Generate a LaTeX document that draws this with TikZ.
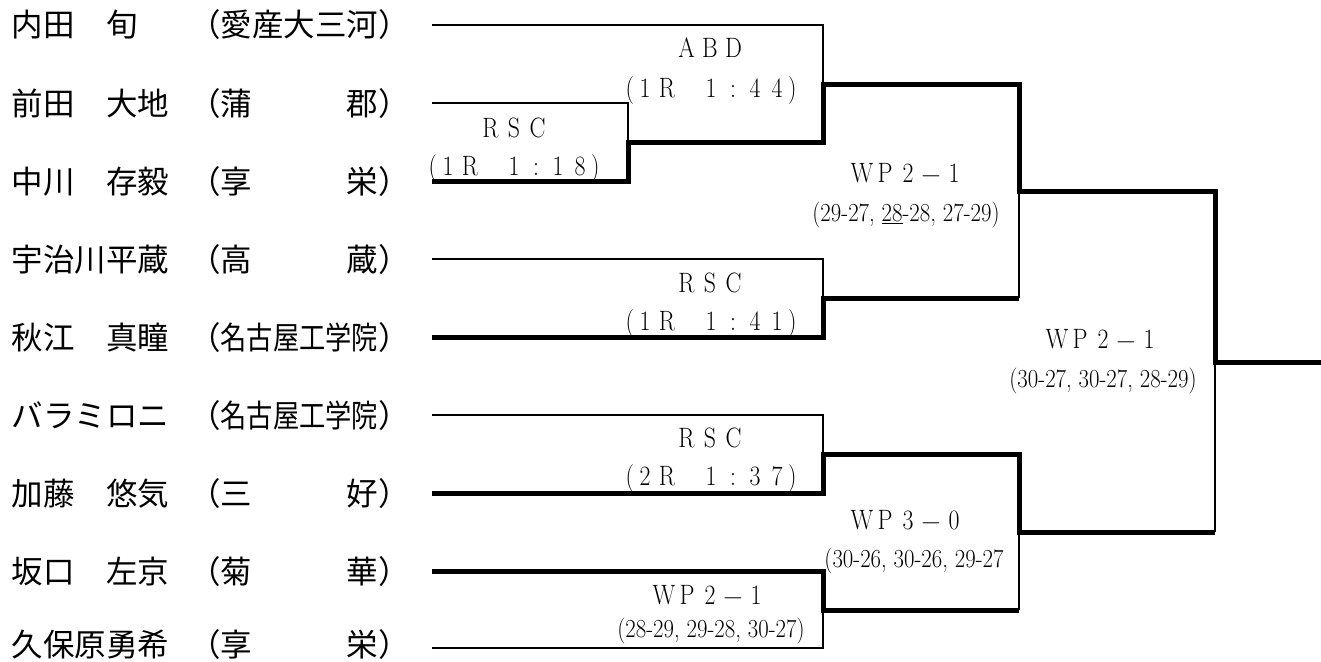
\documentclass[tikz,border=0pt]{standalone}
\usepackage{fontspec}
\usepackage{graphicx}
\newfontfamily\jpfont{Noto Sans CJK JP}
\newcommand\namefont{\jpfont\fontsize{31.5}{34}\selectfont}
\newcommand\lblfont{\fontsize{28}{30}\selectfont}
\newcommand\scorefont{\fontsize{26}{28}\selectfont}
\def\fwend{}
\newcommand\fwminus{\scalebox{1.3}[1]{$-$}}
\newcommand\fwglyph[1]{\scalebox{0.85}[1]{#1}}
\newcommand\fwstr[2]{\def\fwpitch{#1}\fwloop#2\fwend}
\def\fwloop#1{\ifx#1\fwend\else\makebox[\fwpitch]{\fwglyph{#1}}\expandafter\fwloop\fi}
\newcommand\fwpar[2]{\makebox[#1][r]{\fwglyph{(}}\fwstr{#1}{#2}\makebox[#1][l]{\fwglyph{)}}}
\newcommand\squeezed[1]{\scalebox{0.833}[1]{#1}}
\begin{document}
\begin{tikzpicture}[x=1pt,y=-1pt,
  thinln/.style={line width=1.4pt, line join=miter},
  thickln/.style={line width=5pt, line join=miter},
  pname/.style={anchor=base west, inner sep=0pt, font=\namefont},
  lbl/.style={anchor=base, inner sep=0pt, font=\lblfont},
  score/.style={anchor=base, inner sep=0pt, font=\scorefont}]
\fill[white] (0,0) rectangle (1321,661);
\useasboundingbox (0,0) rectangle (1321,661);

% players
\node[pname] (n1) at (11.5,37) {内田　旬};
\node[pname] (s1) at (189,37) {（愛産大三河）};
\node[pname] (n2) at (11.5,115) {前田　大地};
\node[pname] (s2) at (189,115) {（蒲　　　郡）};
\node[pname] (n3) at (11.5,193) {中川　存毅};
\node[pname] (s3) at (189,193) {（享　　　栄）};
\node[pname] (n4) at (11.5,271) {宇治川平蔵};
\node[pname] (s4) at (189,271) {（高　　　蔵）};
\node[pname] (n5) at (11.5,349) {秋江　真瞳};
\node[pname] (s5) at (189,349) {（\squeezed{名古屋工学院}）};
\node[pname] (n6) at (11.5,427) {バラミロニ};
\node[pname] (s6) at (189,427) {（\squeezed{名古屋工学院}）};
\node[pname] (n7) at (11.5,505) {加藤　悠気};
\node[pname] (s7) at (189,505) {（三　　　好）};
\node[pname] (n8) at (11.5,583) {坂口　左京};
\node[pname] (s8) at (189,583) {（菊　　　華）};
\node[pname] (n9) at (11.5,656.5) {久保原勇希};
\node[pname] (s9) at (189,656.5) {（享　　　栄）};

% line starts
\coordinate (l1) at (432,25);
\coordinate (l2) at (432,103);
\coordinate (l3) at (432,181);
\coordinate (l4) at (432,259);
\coordinate (l5) at (432,337);
\coordinate (l6) at (432,415);
\coordinate (l7) at (432,493);
\coordinate (l8) at (432,571);
\coordinate (l9) at (432,648);
% junctions
\coordinate (j1) at (628,142);
\coordinate (j2) at (823,84);
\coordinate (j3) at (823,298);
\coordinate (j4) at (1019,191);
\coordinate (j5) at (823,454);
\coordinate (j6) at (823,610);
\coordinate (j7) at (1019,532);
\coordinate (j8) at (1215,362);
\coordinate (fin) at (1321,362);

% thin lines (losers)
\draw[thinln] (l1) -- (l1 -| j2) -- (j2);
\draw[thinln] (l2) -- (l2 -| j1) -- (j1);
\draw[thinln] (l4) -- (l4 -| j3) -- (j3);
\draw[thinln] (j3 -| j4) -- (j4);
\draw[thinln] (l6) -- (l6 -| j5) -- (j5);
\draw[thinln] (l9) -- (l9 -| j6) -- (j6);
\draw[thinln] (j6 -| j7) -- (j7);
\draw[thinln] (j7 -| j8) -- (j8);

% thick lines (winners)
\draw[thickln] (l3) -- (l3 -| j1) -- (j1) -- (j1 -| j2) -- (j2) -- (j2 -| j4) -- (j4) -- (j4 -| j8) -- (j8) -- (fin);
\draw[thickln] (l5) -- (l5 -| j3) -- (j3) -- (j3 -| j4);
\draw[thickln] (l7) -- (l7 -| j5) -- (j5) -- (j5 -| j7) -- (j7) -- (j7 -| j8);
\draw[thickln] (l8) -- (l8 -| j6) -- (j6) -- (j6 -| j7);

% results
\node[lbl] (t1a) at (710,58) {\fwstr{23.5pt}{ABD}};
\node[lbl] (t1b) at (711,97) {\fwpar{22pt}{1R~1:44}};
\node[lbl] (t2a) at (514,137) {\fwstr{23.5pt}{RSC}};
\node[lbl] (t2b) at (514,175) {\fwpar{22pt}{1R~1:18}};
\node[lbl] (t3a) at (908,182) {\fwstr{23pt}{WP2\fwminus1}};
\node[score] (t3b) at (906,221) {\scalebox{0.875}[1]{(29-27, \underline{28}-28, 27-29)}};
\node[lbl] (t4a) at (710,292) {\fwstr{23.5pt}{RSC}};
\node[lbl] (t4b) at (711,330) {\fwpar{22pt}{1R~1:41}};
\node[lbl] (t5a) at (1103,348) {\fwstr{23pt}{WP2\fwminus1}};
\node[score] (t5b) at (1103,387) {\scalebox{0.875}[1]{(30-27, 30-27, 28-29)}};
\node[lbl] (t6a) at (710,447) {\fwstr{23.5pt}{RSC}};
\node[lbl] (t6b) at (711,485) {\fwpar{22pt}{2R~1:37}};
\node[lbl] (t7a) at (908,529) {\fwstr{23pt}{WP3\fwminus0}};
\node[score] (t7b) at (914,567) {\scalebox{0.875}[1]{(30-26, 30-26, 29-27}};
\node[lbl] (t8a) at (710,604) {\fwstr{23pt}{WP2\fwminus1}};
\node[score] (t8b) at (711,637) {\scalebox{0.875}[1]{(28-29, 29-28, 30-27)}};
\end{tikzpicture}
\end{document}
